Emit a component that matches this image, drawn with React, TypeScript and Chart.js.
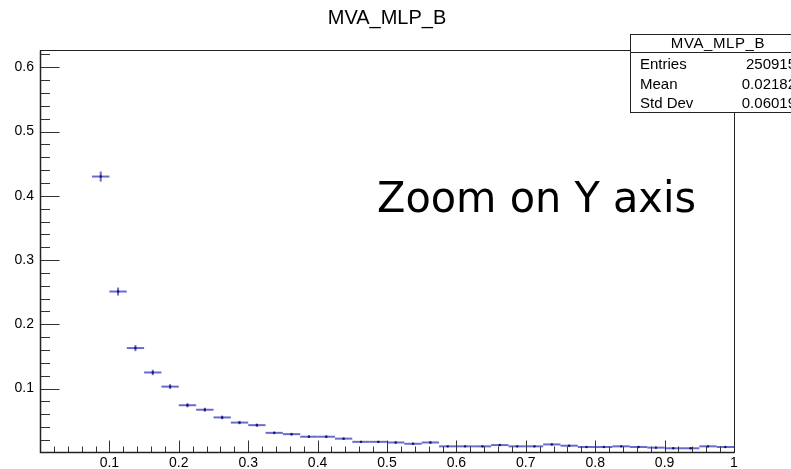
import { useEffect, useRef } from 'react';
import { Chart, registerables } from 'chart.js';

Chart.register(...registerables);

const TITLE = 'MVA_MLP_B';
const ANNOTATION = 'Zoom on Y axis';

const binCenters = [
  0.0875, 0.1125, 0.1375, 0.1625, 0.1875, 0.2125, 0.2375, 0.2625, 0.2875, 0.3125,
  0.3375, 0.3625, 0.3875, 0.4125, 0.4375, 0.4625, 0.4875, 0.5125, 0.5375, 0.5625,
  0.5875, 0.6125, 0.6375, 0.6625, 0.6875, 0.7125, 0.7375, 0.7625, 0.7875, 0.8125,
  0.8375, 0.8625, 0.8875, 0.9125, 0.9375, 0.9625, 0.9875,
];
const binHalfWidth = 0.0125;

const values = [
  0.430, 0.251, 0.163, 0.125, 0.103, 0.074, 0.067, 0.055, 0.047, 0.043,
  0.031, 0.029, 0.025, 0.025, 0.022, 0.017, 0.017, 0.016, 0.014, 0.016,
  0.010, 0.010, 0.010, 0.012, 0.010, 0.010, 0.013, 0.011, 0.009, 0.009,
  0.010, 0.009, 0.008, 0.007, 0.007, 0.010, 0.009,
];

const errors = [
  0.0078, 0.0062, 0.0048, 0.0042, 0.0038, 0.0032, 0.0031, 0.0028, 0.0026, 0.0025,
  0.0021, 0.0020, 0.0019, 0.0019, 0.0018, 0.0016, 0.0016, 0.0015, 0.0014, 0.0015,
  0.0012, 0.0012, 0.0012, 0.0013, 0.0012, 0.0012, 0.0014, 0.0012, 0.0011, 0.0011,
  0.0012, 0.0011, 0.0011, 0.0010, 0.0010, 0.0012, 0.0011,
];

const xTickValues = [0.1, 0.2, 0.3, 0.4, 0.5, 0.6, 0.7, 0.8, 0.9, 1.0];
const xTickLabels = ['0.1', '0.2', '0.3', '0.4', '0.5', '0.6', '0.7', '0.8', '0.9', '1'];
const yTickValues = [0.1, 0.2, 0.3, 0.4, 0.5, 0.6];
const yTickLabels = ['0.1', '0.2', '0.3', '0.4', '0.5', '0.6'];

const statsNames = ['Entries', 'Mean', 'Std Dev'];
const statsValues = ['250915', '0.02182', '0.06019'];

const X_MIN = 0;
const X_MAX = 1;
const Y_MIN = 0.0012;
const Y_MAX = 0.627;

const FONT = '"Liberation Sans", Arial, Helvetica, sans-serif';

const rootPlugin = {
  id: 'rootStyle',
  beforeDatasetsDraw(chart: any) {
    const { ctx, scales } = chart;
    const x = scales.x;
    const y = scales.y;
    ctx.save();
    ctx.strokeStyle = 'rgba(70,70,195,0.8)';
    ctx.lineWidth = 2;
    binCenters.forEach((c, i) => {
      const px = x.getPixelForValue(c);
      const py = y.getPixelForValue(values[i]);
      const x0 = x.getPixelForValue(c - binHalfWidth);
      const x1 = x.getPixelForValue(c + binHalfWidth);
      ctx.beginPath();
      ctx.moveTo(x0, py);
      ctx.lineTo(x1, py);
      ctx.stroke();
      const y0 = y.getPixelForValue(values[i] - errors[i]);
      const y1 = y.getPixelForValue(values[i] + errors[i]);
      ctx.beginPath();
      ctx.moveTo(px, y0);
      ctx.lineTo(px, y1);
      ctx.stroke();
    });
    ctx.restore();
  },
  afterDraw(chart: any) {
    const { ctx, chartArea: a, scales } = chart;
    const x = scales.x;
    const y = scales.y;
    const L = Math.round(a.left) + 0.5;
    const R = Math.round(a.right) + 0.5;
    const T = Math.round(a.top) + 0.5;
    const B = Math.round(a.bottom) + 0.5;
    ctx.save();

    // ticks
    ctx.strokeStyle = '#333';
    ctx.lineWidth = 1;
    for (let k = 1; k <= 31; k++) {
      const v = k * 0.02;
      if (v > Y_MAX) break;
      const major = k % 5 === 0;
      const py = Math.round(y.getPixelForValue(v)) + 0.5;
      ctx.beginPath();
      ctx.moveTo(L, py);
      ctx.lineTo(L + (major ? 19 : 9.5), py);
      ctx.stroke();
    }
    for (let k = 1; k <= 50; k++) {
      const v = k * 0.02;
      const major = k % 5 === 0;
      const px = Math.round(x.getPixelForValue(v)) + 0.5;
      ctx.beginPath();
      ctx.moveTo(px, B);
      ctx.lineTo(px, B - (major ? 12 : 6));
      ctx.stroke();
    }

    // frame
    ctx.strokeStyle = '#222';
    ctx.lineWidth = 1;
    ctx.strokeRect(L, T, R - L, B - T);
    ctx.lineWidth = 1.5;
    ctx.beginPath();
    ctx.moveTo(L, T);
    ctx.lineTo(L, B);
    ctx.lineTo(R, B);
    ctx.stroke();

    // title
    ctx.fillStyle = '#000';
    ctx.font = `20px ${FONT}`;
    ctx.textAlign = 'center';
    ctx.textBaseline = 'alphabetic';
    ctx.fillText(TITLE, 387, 23.5);

    // annotation
    ctx.font = '43px "DejaVu Sans", Verdana, sans-serif';
    ctx.textAlign = 'left';
    ctx.fillText(ANNOTATION, 377, 212, 319);

    // stats box
    const bx = 630.5;
    const by = 34.5;
    const bw = 180;
    const bh = 78;
    ctx.fillStyle = '#fff';
    ctx.fillRect(bx, by, bw, bh);
    ctx.strokeStyle = '#222';
    ctx.lineWidth = 1;
    ctx.strokeRect(bx, by, bw, bh);
    ctx.beginPath();
    ctx.moveTo(bx, 52.5);
    ctx.lineTo(bx + bw, 52.5);
    ctx.stroke();
    ctx.fillStyle = '#000';
    ctx.font = `15px ${FONT}`;
    ctx.textAlign = 'center';
    (ctx as any).letterSpacing = '0.6px';
    ctx.fillText(TITLE, 718, 47.5);
    (ctx as any).letterSpacing = '0px';
    const rowsY = [69, 88.5, 108];
    statsNames.forEach((n, i) => {
      ctx.textAlign = 'left';
      ctx.fillText(n, 640, rowsY[i]);
      ctx.textAlign = 'right';
      ctx.fillText(statsValues[i], 796, rowsY[i]);
    });
    ctx.restore();
  },
};

export default function App() {
  const ref = useRef<HTMLCanvasElement | null>(null);
  useEffect(() => {
    document.body.style.margin = '0';
    const canvas = ref.current;
    if (!canvas) return;
    const chart = new Chart(canvas, {
      type: 'scatter',
      data: {
        datasets: [
          {
            label: TITLE,
            data: binCenters.map((c, i) => ({ x: c, y: values[i] })),
            pointRadius: 1.2,
            pointBackgroundColor: '#16165e',
            pointBorderWidth: 0,
            showLine: false,
          },
        ],
      },
      options: {
        animation: false,
        responsive: false,
        maintainAspectRatio: false,
        devicePixelRatio: 1,
        layout: { padding: { top: 50, right: 57, left: 0, bottom: 0 } },
        plugins: {
          legend: { display: false },
          tooltip: { enabled: false },
          title: { display: false },
        },
        scales: {
          x: {
            type: 'linear',
            min: X_MIN,
            max: X_MAX,
            grid: { display: false, drawTicks: false, tickLength: 0 },
            border: { display: false },
            afterFit: (s: any) => {
              s.height = 17;
            },
            afterBuildTicks: (s: any) => {
              s.ticks = xTickValues.map((v) => ({ value: v }));
            },
            ticks: {
              autoSkip: false,
              maxRotation: 0,
              padding: 3,
              color: '#000',
              font: { family: FONT, size: 14 },
              callback: (_v: any, i: number) => xTickLabels[i],
            },
          },
          y: {
            type: 'linear',
            min: Y_MIN,
            max: Y_MAX,
            grid: { display: false, drawTicks: false, tickLength: 0 },
            border: { display: false },
            afterFit: (s: any) => {
              s.width = 40;
            },
            afterBuildTicks: (s: any) => {
              s.ticks = yTickValues.map((v) => ({ value: v }));
            },
            ticks: {
              autoSkip: false,
              padding: 6,
              color: '#000',
              font: { family: FONT, size: 14 },
              callback: (_v: any, i: number) => yTickLabels[i],
            },
          },
        },
      },
      plugins: [rootPlugin],
    });
    return () => chart.destroy();
  }, []);
  return (
    <div style={{ width: 791, height: 469 }}>
      <canvas ref={ref} width={791} height={469} style={{ display: 'block' }} />
    </div>
  );
}
